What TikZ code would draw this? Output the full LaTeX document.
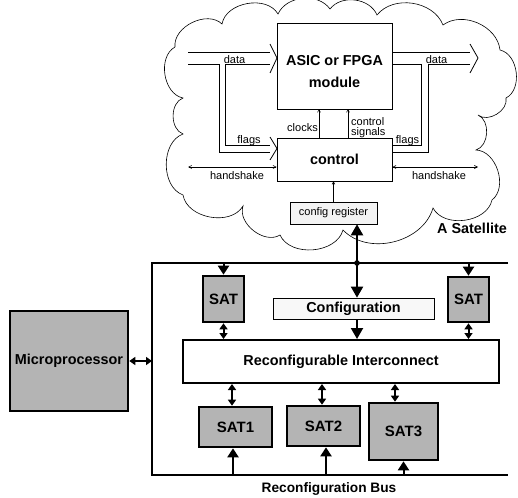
\documentclass[tikz,border=0pt]{standalone}
\usepackage{fontspec}
\setmainfont{Liberation Sans}
\usetikzlibrary{arrows.meta,calc}
\definecolor{satgray}{RGB}{180,180,180}
\definecolor{litegray}{RGB}{243,243,243}
\tikzset{
  lbl/.style={font=\fontsize{11}{11}\selectfont, inner sep=0pt},
  bigtxt/.style={font=\bfseries\fontsize{14.4}{16}\selectfont, inner sep=0pt},
  thinbox/.style={draw, line width=0.8pt, inner sep=0pt},
  satbox/.style={draw, line width=2.6pt, fill=satgray, inner sep=0pt, font=\bfseries\fontsize{15}{16}\selectfont},
  thin/.style={line width=0.8pt},
  tarrow/.style={line width=0.5pt, -{Straight Barb[length=2.5pt,width=3pt]}},
  hsarrow/.style={line width=0.6pt, {Straight Barb[length=3pt,width=3pt]}-{Straight Barb[length=3pt,width=3pt]}},
  bigarrow/.style={line width=2pt, -{Triangle[length=11pt,width=12pt]}},
  midarrow/.style={line width=2pt, -{Triangle[length=9pt,width=11pt]}},
  dblarrow/.style={line width=2pt, {Triangle[length=6pt,width=8pt]}-{Triangle[length=6pt,width=8pt]}},
  bus/.style={line width=2.6pt}
}
\begin{document}
\begin{tikzpicture}[x=1pt,y=-1pt]
\useasboundingbox (0,0) rectangle (518,497);

% cloud
\draw[line width=0.6pt] (175,47) to[bend left=70] (222,24) to[bend left=70] (278,14)
  to[bend left=60] (330,9) to[bend left=60] (377,15) to[bend left=60] (443,25)
  to[bend left=60] (500,50) to[bend left=70] (506,98) to[bend left=70] (478,115)
  to[bend left=70] (476,150) to[bend left=70] (492,200) to[bend left=70] (433,208)
  to[bend left=60] (343,230) to[bend left=70] (280,235) to[bend left=70] (243,206)
  to[bend left=70] (183,195) to[bend left=70] (183,134) to[bend left=70] (183,98)
  to[bend left=70] (175,47);

% satellite boxes
\node[thinbox, minimum width=115pt, minimum height=86pt] (asic) at (334.5,66) {};
\node[bigtxt] (asicA) at (334.5,61) {ASIC or FPGA};
\node[bigtxt] (asicB) at (334.5,82) {module};
\node[thinbox, minimum width=115pt, minimum height=43pt, bigtxt] (ctrl) at (334.5,159.5) {control};
\node[thinbox, line width=0.6pt, fill=litegray, minimum width=87pt, minimum height=22pt, lbl] (cfgreg) at (333.5,213) {config register};

% thin arrows
\draw[tarrow] (cfgreg.north) -- (cfgreg.north |- ctrl.south);
\draw[tarrow] ([xshift=-15.5pt]ctrl.north) -- ([xshift=-15.5pt]asic.south);
\draw[tarrow] ([xshift=13.5pt]ctrl.north) -- ([xshift=13.5pt]asic.south);
\node[lbl, anchor=east] (lclk) at (318,128) {clocks};
\node[lbl, anchor=base west] (lcs1) at (351,126) {control};
\node[lbl, anchor=base west] (lcs2) at (351,135.5) {signals};

% left wide arrows
\draw[thin] (188,52) -- (270,52);
\draw[thin] (270,44) -- (277,58) -- (270,73);
\draw[thin] (188,64) -- (219,64) -- (219,152) -- (270,152);
\draw[thin] (270,64) -- (225,64) -- (225,145) -- (270,145);
\draw[thin] (270,137) -- (277,148.5) -- (270,160);
% right wide arrows
\draw[thin] (392,52) -- (470,52);
\draw[thin] (470,44) -- (478,58) -- (470,73);
\draw[thin] (392,64) -- (421,64) -- (421,145) -- (392,145);
\draw[thin] (470,64) -- (428,64) -- (428,152) -- (392,152);

\node[lbl, anchor=base] (ldata) at (234.5,63.5) {data};
\node[lbl, anchor=base] (rdata) at (436.5,63.5) {data};
\node[lbl, anchor=base] (lflags) at (249,143) {flags};
\node[lbl, anchor=base] (rflags) at (407.5,143) {flags};

% handshake
\coordinate (hsl) at (188,167);
\coordinate (hsr) at (478,167);
\draw[hsarrow] (hsl) -- (hsl -| ctrl.west);
\draw[hsarrow] (hsl -| ctrl.east) -- (hsr);
\node[lbl, anchor=base] (lhs) at (237,179) {handshake};
\node[lbl, anchor=base] (rhs) at (439,179) {handshake};

\node[bigtxt, anchor=base] (sattxt) at (472,233) {A Satellite};

% bottom system
\draw[bus] (508,263) -- (152,263) -- (152,475) -- (508,475);
\coordinate (dot) at (357,263);
\fill (dot) circle (2.8pt);

\node[satbox, minimum width=118pt, minimum height=100pt, font=\bfseries\fontsize{14.4}{16}\selectfont] (micro) at (69,361) {Microprocessor};
\coordinate (fl) at (152,361);
\draw[dblarrow] (micro.east) -- (fl);

\node[satbox] (satL) at (223.5,299) [minimum width=41pt, minimum height=46pt] {SAT};
\node[satbox] (satR) at (468.5,299.5) [minimum width=41pt, minimum height=45pt] {SAT};
\node[draw, line width=2pt, fill=white, minimum width=316pt, minimum height=43pt, bigtxt] (ric) at (341,361.5) {Reconfigurable Interconnect};
\node[draw, line width=0.7pt, fill=litegray!60, minimum width=161pt, minimum height=21pt, bigtxt] (conf) at (353.5,308.5) {Configuration};
\node[satbox, minimum width=73pt, minimum height=40pt] (sat1) at (235.5,427) {SAT1};
\node[satbox, minimum width=73pt, minimum height=40pt] (sat2) at (323.5,426) {SAT2};
\node[satbox, minimum width=69pt, minimum height=57pt] (sat3) at (403.5,431.5) {SAT3};

% arrows from bus top line
\draw[midarrow] (satL.north |- dot) -- (satL.north);
\draw[midarrow] (satR.north |- dot) -- (satR.north);
\draw[bigarrow] (dot) -- (dot |- conf.north);
\draw[bigarrow] (dot |- conf.south) -- (dot |- ric.north);
\draw[bigarrow] (dot) -- (dot |- cfgreg.south);

% double arrows
\draw[dblarrow] (satL.south) -- (satL.south |- ric.north);
\draw[dblarrow] (satR.south) -- (satR.south |- ric.north);
\draw[dblarrow] ([xshift=-3.5pt]sat1.north |- ric.south) -- ([xshift=-3.5pt]sat1.north);
\draw[dblarrow] ([xshift=-1.5pt]sat2.north |- ric.south) -- ([xshift=-1.5pt]sat2.north);
\draw[dblarrow] ([xshift=-8.5pt]sat3.north |- ric.south) -- ([xshift=-8.5pt]sat3.north);

% arrows from bottom bus
\coordinate (bb) at (152,475);
\draw[midarrow] ([xshift=-2.5pt]sat1.south |- bb) -- ([xshift=-2.5pt]sat1.south);
\draw[midarrow] ([xshift=2.5pt]sat2.south |- bb) -- ([xshift=2.5pt]sat2.south);
\draw[midarrow] (sat3.south |- bb) -- (sat3.south);

\node[font=\bfseries\fontsize{13.7}{15}\selectfont, inner sep=0pt, anchor=base] (bustxt) at (329,492) {Reconfiguration Bus};
\end{tikzpicture}
\end{document}
